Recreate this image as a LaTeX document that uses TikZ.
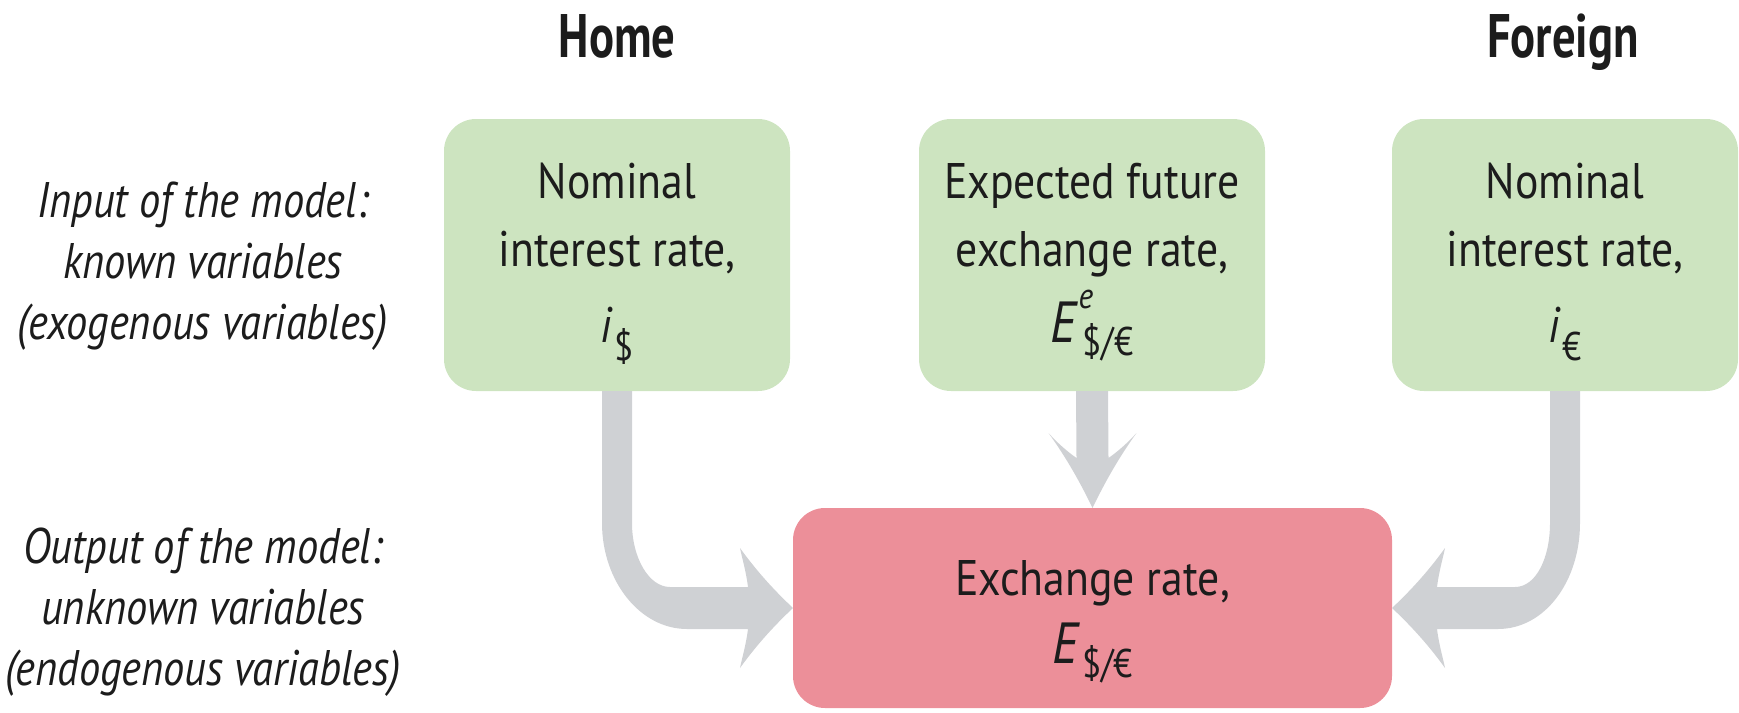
\documentclass[tikz,border=0pt]{standalone}
\usepackage{fontspec}
\setmainfont{PT Sans}[FakeStretch=0.875]
\newfontfamily\labelfont{PT Sans}[FakeStretch=0.85]
\newfontfamily\headfont{PT Sans}[FakeStretch=0.76]
\usetikzlibrary{calc}

\definecolor{inbox}{HTML}{CDE4C0}
\definecolor{outbox}{HTML}{EC8F99}
\definecolor{flow}{HTML}{CFD1D4}
\definecolor{ink}{HTML}{1C1C1C}

% invisible rules that fix the extent of the first and last text line
\newcommand\capstrut[1]{\rule{0pt}{#1}}
\newcommand\footstrut[1]{\rule[-#1]{0pt}{#1}}
% variable symbols with their indices
\newcommand\subfont{\fontsize{20}{20}\selectfont}
\newcommand\supfont{\fontsize{18}{18}\selectfont}
\newcommand\bigvar[1]{{\fontsize{29}{29}\selectfont\textit{#1}}}

\begin{document}
\begin{tikzpicture}[x=0.5pt, y=-0.5pt,
  every node/.style={inner sep=0pt, outer sep=0pt},
  varbox/.style={rounded corners=16pt, minimum width=173pt, minimum height=136pt,
    align=center, font=\fontsize{25}{34}\selectfont, text=ink},
  inputbox/.style={varbox, fill=inbox},
  outputbox/.style={varbox, fill=outbox, minimum width=299.5pt, minimum height=100pt},
  sidetitle/.style={anchor=base, font=\fontsize{30.7}{34}\selectfont\headfont\bfseries, text=ink},
  rowlabel/.style={align=center, font=\fontsize{25}{30.5}\selectfont\labelfont\itshape, text=ink},
  flowarrow/.style={fill=flow}
]
\useasboundingbox (0,0) rectangle (1739,712);

% column titles
\node[sidetitle] (hometitle) at (617,57) {Home};
\node[sidetitle] (foreigntitle) at (1563,57) {Foreign};

% row labels
\node[rowlabel] (inputlbl) at (203,266) {Input of the model:\\known variables\\(exogenous variables)};
\node[rowlabel] (outputlbl) at (203,612) {Output of the model:\\unknown variables\\(endogenous variables)};

% exogenous inputs
\node[inputbox] (home) at (617,255)
  {\capstrut{27.5pt}Nominal\\interest rate,\\[4pt]\textit{i}\kern0.5pt\raisebox{-9pt}{\subfont\$}\footstrut{12.5pt}};
\node[inputbox] (exp) at (1092,255)
  {\capstrut{27.5pt}Expected future\\exchange rate,\\[4pt]\bigvar{E}\rlap{\raisebox{17pt}{\supfont\textit{e}}}\kern2pt\raisebox{-6.5pt}{\subfont\$/€}\footstrut{12.5pt}};
\node[inputbox] (foreign) at (1565,255)
  {\capstrut{27.5pt}Nominal\\interest rate,\\[4pt]\textit{i}\kern0.5pt\raisebox{-9pt}{\subfont €}\footstrut{12.5pt}};

% endogenous output
\node[outputbox] (rate) at (1092.5,608)
  {\capstrut{33pt}Exchange rate,\\\bigvar{E}\kern1pt\raisebox{-7pt}{\subfont\$/€}\footstrut{12pt}};

% home interest rate -> exchange rate
\fill[flowarrow]
  ($(home.south)+(-15,0)$)
  -- ($(home.south |- rate.west)+(-15,-85)$)
  .. controls ($(home.south |- rate.west)+(-15,-27)$) and ($(rate.west)+(-153,21)$) .. ($(rate.west)+(-106,21)$)
  -- ($(rate.west)+(-45,21)$)
  .. controls ($(rate.west)+(-47,37)$) and ($(rate.west)+(-51,50)$) .. ($(rate.west)+(-53,60)$)
  .. controls ($(rate.west)+(-35,35)$) and ($(rate.west)+(-17,16)$) .. (rate.west)
  .. controls ($(rate.west)+(-17,-16)$) and ($(rate.west)+(-35,-35)$) .. ($(rate.west)+(-53,-60)$)
  .. controls ($(rate.west)+(-51,-50)$) and ($(rate.west)+(-47,-37)$) .. ($(rate.west)+(-45,-21)$)
  -- ($(rate.west)+(-123,-21)$)
  .. controls ($(rate.west)+(-144,-21)$) and ($(home.south |- rate.west)+(15,-50)$) .. ($(home.south |- rate.west)+(15,-85)$)
  -- ($(home.south)+(15,0)$) -- cycle;

% expected future rate -> exchange rate
\fill[flowarrow]
  ($(exp.south)+(-16,0)$)
  -- ($(rate.north)+(-16,-50)$)
  .. controls ($(rate.north)+(-26,-57)$) and ($(rate.north)+(-36,-66)$) .. ($(rate.north)+(-44,-75)$)
  .. controls ($(rate.north)+(-26,-50)$) and ($(rate.north)+(-12,-25)$) .. (rate.north)
  .. controls ($(rate.north)+(12,-25)$) and ($(rate.north)+(26,-50)$) .. ($(rate.north)+(44,-75)$)
  .. controls ($(rate.north)+(36,-66)$) and ($(rate.north)+(26,-57)$) .. ($(rate.north)+(16,-50)$)
  -- ($(exp.south)+(16,0)$) -- cycle;

% foreign interest rate -> exchange rate
\fill[flowarrow]
  ($(foreign.south)+(15,0)$)
  -- ($(foreign.south |- rate.east)+(15,-85)$)
  .. controls ($(foreign.south |- rate.east)+(15,-27)$) and ($(rate.east)+(153,21)$) .. ($(rate.east)+(106,21)$)
  -- ($(rate.east)+(45,21)$)
  .. controls ($(rate.east)+(47,37)$) and ($(rate.east)+(51,50)$) .. ($(rate.east)+(53,60)$)
  .. controls ($(rate.east)+(35,35)$) and ($(rate.east)+(17,16)$) .. (rate.east)
  .. controls ($(rate.east)+(17,-16)$) and ($(rate.east)+(35,-35)$) .. ($(rate.east)+(53,-60)$)
  .. controls ($(rate.east)+(51,-50)$) and ($(rate.east)+(47,-37)$) .. ($(rate.east)+(45,-21)$)
  -- ($(rate.east)+(123,-21)$)
  .. controls ($(rate.east)+(144,-21)$) and ($(foreign.south |- rate.east)+(-15,-50)$) .. ($(foreign.south |- rate.east)+(-15,-85)$)
  -- ($(foreign.south)+(-15,0)$) -- cycle;
\end{tikzpicture}
\end{document}
